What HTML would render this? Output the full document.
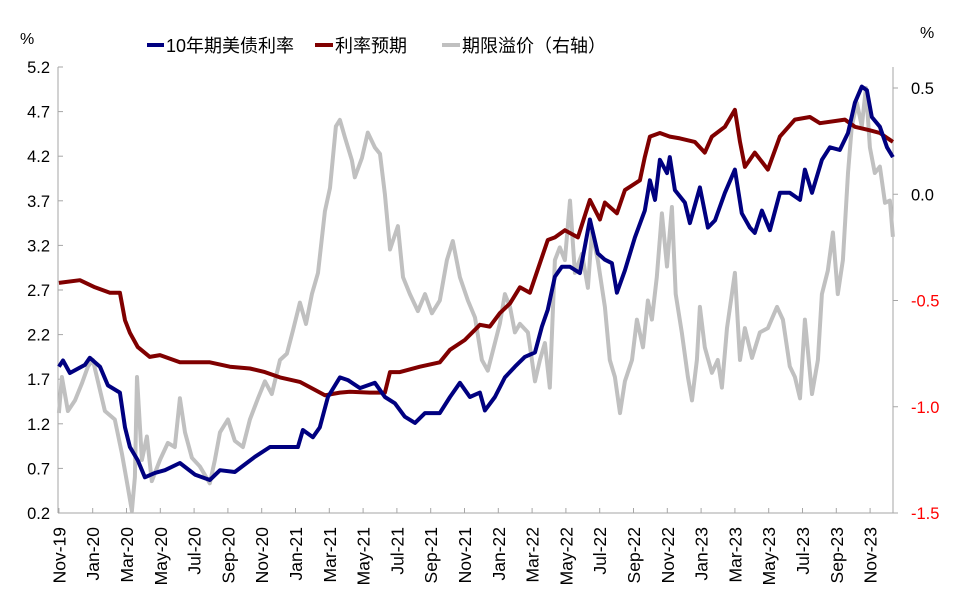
<!DOCTYPE html>
<html><head><meta charset="utf-8"><style>
html,body{margin:0;padding:0;background:#fff;}
svg{display:block;font-family:"Liberation Sans","Noto Sans CJK SC",sans-serif;}
</style></head><body>
<svg id="chart" width="963" height="604" viewBox="0 0 963 604" xmlns="http://www.w3.org/2000/svg">
<g id="axes"></g>
<g id="series"></g>
<g id="legend">
 <g><line x1="147" y1="45" x2="164" y2="45" stroke="#000080" stroke-width="4"/><text x="166" y="52" font-size="18">10年期美债利率</text></g>
 <g><line x1="315" y1="45" x2="333" y2="45" stroke="#800000" stroke-width="4"/><text x="335" y="52" font-size="18">利率预期</text></g>
 <g><line x1="442" y1="45" x2="460" y2="45" stroke="#c0c0c0" stroke-width="4"/><text x="462" y="52" font-size="18">期限溢价（右轴）</text></g>
</g>
<text x="20" y="44" font-size="16">%</text>
<text x="920" y="38" font-size="16">%</text>
</svg>
<script>
const xLabels = ["Nov-19","Jan-20","Mar-20","May-20","Jul-20","Sep-20","Nov-20","Jan-21","Mar-21","May-21","Jul-21","Sep-21","Nov-21","Jan-22","Mar-22","May-22","Jul-22","Sep-22","Nov-22","Jan-23","Mar-23","May-23","Jul-23","Sep-23","Nov-23"];
const leftTicks = [0.2,0.7,1.2,1.7,2.2,2.7,3.2,3.7,4.2,4.7,5.2];
const rightTicks = [0.5,0.0,-0.5,-1.0,-1.5];
// months since Nov 2019
const yieldT = [0,0.24,0.65,1.54,1.83,2.43,2.9,3.61,3.91,4.2,4.67,5.09,5.68,6.27,7.16,8.05,8.93,9.53,10.41,11.6,12.49,14.14,14.44,15.03,15.44,15.92,16.63,17.1,17.81,18.7,19.29,19.88,20.47,21.07,21.66,22.54,23.14,23.73,24.32,24.91,25.21,25.8,26.39,26.98,27.57,28.17,28.58,28.93,29.35,29.76,30.24,30.83,31.42,31.89,32.31,32.72,33.02,33.49,34.08,34.67,34.97,35.27,35.56,35.98,36.15,36.45,37.04,37.34,37.93,38.4,38.82,39.41,40.0,40.41,40.89,41.18,41.6,42.07,42.66,43.25,43.85,44.14,44.56,45.15,45.62,46.21,46.69,47.1,47.51,47.81,48.1,48.58,49.0,49.35];
const yieldV = [1.84,1.91,1.77,1.86,1.94,1.84,1.63,1.55,1.16,0.94,0.79,0.60,0.65,0.68,0.76,0.63,0.57,0.68,0.66,0.83,0.94,0.94,1.13,1.05,1.16,1.50,1.72,1.69,1.60,1.66,1.50,1.43,1.28,1.21,1.32,1.32,1.50,1.66,1.50,1.55,1.35,1.50,1.72,1.84,1.95,2.00,2.29,2.48,2.85,2.96,2.96,2.89,3.49,3.11,3.04,3.00,2.67,2.92,3.29,3.59,3.93,3.71,4.16,4.01,4.19,3.82,3.68,3.45,3.85,3.40,3.48,3.79,4.05,3.56,3.40,3.34,3.59,3.37,3.79,3.79,3.71,4.05,3.79,4.16,4.30,4.27,4.46,4.80,4.98,4.94,4.64,4.53,4.30,4.19];
const expT = [0,1.24,2.13,3.02,3.61,3.91,4.2,4.67,5.38,5.98,7.16,8.93,10.12,11.3,12.19,13.08,14.26,15.15,15.74,16.63,17.22,18.4,19.29,19.59,20.18,21.36,22.54,23.14,24.02,24.91,25.5,26.09,26.69,27.28,27.87,28.46,28.93,29.35,29.94,30.71,31.42,32.01,32.31,33.02,33.49,34.38,34.67,34.97,35.56,36.15,36.75,37.63,38.22,38.64,39.41,40.0,40.3,40.59,41.18,41.95,42.66,43.55,44.44,45.03,46.51,47.1,47.99,48.58,49.35];
const expV = [2.78,2.81,2.73,2.67,2.67,2.36,2.22,2.06,1.95,1.97,1.89,1.89,1.84,1.82,1.78,1.72,1.67,1.58,1.52,1.55,1.56,1.55,1.55,1.78,1.78,1.84,1.89,2.03,2.14,2.31,2.29,2.44,2.55,2.73,2.67,3.00,3.26,3.29,3.37,3.29,3.71,3.49,3.68,3.56,3.82,3.93,4.19,4.42,4.46,4.42,4.40,4.36,4.24,4.42,4.53,4.72,4.36,4.08,4.24,4.05,4.42,4.61,4.64,4.57,4.61,4.53,4.49,4.46,4.36];
const tpT = [0,0.18,0.53,0.95,1.36,1.72,2.01,2.31,2.72,3.31,3.73,4.08,4.32,4.5,4.62,4.91,5.21,5.5,5.98,6.45,6.86,7.16,7.46,7.87,8.34,8.93,9.23,9.53,10.0,10.41,10.89,11.3,11.78,12.19,12.6,13.08,13.49,13.85,14.26,14.62,14.97,15.33,15.74,16.04,16.39,16.63,16.92,17.34,17.51,17.93,18.28,18.7,19.0,19.29,19.59,20.06,20.36,20.77,21.24,21.66,22.07,22.54,22.96,23.31,23.73,24.2,24.62,25.03,25.38,25.8,26.09,26.39,26.69,26.98,27.28,27.75,28.17,28.46,28.76,29.05,29.35,29.64,29.94,30.24,30.53,30.95,31.3,31.54,31.89,32.31,32.6,32.9,33.2,33.49,33.91,34.2,34.56,34.85,35.09,35.38,35.68,35.98,36.27,36.5,36.86,37.22,37.46,37.75,37.93,38.22,38.64,38.99,39.23,39.53,40.0,40.3,40.59,41.01,41.48,41.95,42.49,42.84,43.25,43.55,43.85,44.14,44.56,44.91,45.15,45.5,45.8,46.09,46.39,46.69,46.92,47.22,47.51,47.75,47.99,48.28,48.58,48.88,49.17,49.35];
const tpV = [-1.03,-0.86,-1.02,-0.97,-0.89,-0.81,-0.78,-0.88,-1.02,-1.06,-1.22,-1.38,-1.49,-1.33,-0.86,-1.25,-1.14,-1.35,-1.25,-1.17,-1.19,-0.96,-1.12,-1.24,-1.28,-1.36,-1.25,-1.12,-1.06,-1.16,-1.19,-1.06,-0.96,-0.88,-0.94,-0.78,-0.75,-0.64,-0.51,-0.61,-0.47,-0.37,-0.08,0.03,0.32,0.35,0.27,0.16,0.08,0.17,0.29,0.22,0.19,0.00,-0.26,-0.15,-0.39,-0.47,-0.55,-0.47,-0.56,-0.50,-0.31,-0.22,-0.39,-0.50,-0.58,-0.78,-0.83,-0.70,-0.61,-0.47,-0.53,-0.65,-0.61,-0.65,-0.88,-0.78,-0.70,-0.91,-0.31,-0.25,-0.31,-0.03,-0.37,-0.28,-0.44,-0.18,-0.31,-0.53,-0.78,-0.86,-1.03,-0.88,-0.78,-0.59,-0.72,-0.50,-0.59,-0.39,-0.09,-0.34,-0.06,-0.47,-0.65,-0.86,-0.97,-0.78,-0.53,-0.72,-0.84,-0.78,-0.91,-0.63,-0.37,-0.78,-0.63,-0.77,-0.65,-0.63,-0.53,-0.59,-0.81,-0.86,-0.96,-0.59,-0.94,-0.78,-0.47,-0.36,-0.18,-0.47,-0.31,0.10,0.32,0.43,0.32,0.50,0.22,0.10,0.13,-0.04,-0.03,-0.20];

const NS="http://www.w3.org/2000/svg";
const X0=58.9, PX_PER_MONTH=16.9, PL=58, PR=893, PT=67, PB=513;
const xScale = t => X0 + t*PX_PER_MONTH;
const yLeft = v => PB - (v-0.2)/(5.2-0.2)*(PB-PT);
const yRight = v => PB - (v+1.5)/(0.5+1.5)*(PB-88);
function mk(tag, attrs, parent){const e=document.createElementNS(NS,tag);for(const k in attrs)e.setAttribute(k,attrs[k]);parent.appendChild(e);return e;}
const axes=document.getElementById('axes');
const ser=document.getElementById('series');
const ax='#a6a6a6';
let e;
e=mk('line',{x1:PL,y1:PT,x2:PL,y2:PB,stroke:ax,'stroke-width':1},axes);


e=mk('line',{x1:PR,y1:PT,x2:PR,y2:PB,stroke:ax,'stroke-width':1},axes);


e=mk('line',{x1:PL,y1:PB,x2:PR,y2:PB,stroke:ax,'stroke-width':1},axes);


leftTicks.forEach(v=>{
  const y=yLeft(v);
  mk('line',{x1:PL,y1:y,x2:PL+5,y2:y,stroke:ax},axes);
  const t=mk('text',{x:50,y:y+6,'font-size':16.5,'text-anchor':'end'},axes);
  t.textContent=v.toFixed(1);
  
  
});
rightTicks.forEach(v=>{
  const y=yRight(v);
  mk('line',{x1:PR,y1:y,x2:PR+5,y2:y,stroke:ax},axes);
  const t=mk('text',{x:911,y:y+6,'font-size':16.5,fill:v<0?'#ff0000':'#000'},axes);
  t.textContent=v.toFixed(1);
  
  
});
xLabels.forEach((l,i)=>{
  const x=xScale(i*2);
  mk('line',{x1:x,y1:PB,x2:x,y2:PB-5,stroke:ax},axes);
  const t=mk('text',{x:0,y:0,'font-size':17.5,'text-anchor':'end',transform:`translate(${x+6.5},527) rotate(-90)`},axes);
  t.textContent=l;
  
  
});
function line(T,V,ys,color,name){
  const d=T.map((t,i)=>(i?'L':'M')+xScale(t).toFixed(1)+','+ys(V[i]).toFixed(1)).join('');
  const p=mk('path',{d:d,fill:'none',stroke:color,'stroke-width':4,'stroke-linejoin':'round'},ser);
  
  
}
line(tpT,tpV,yRight,'#c0c0c0','term-premium-line');
line(expT,expV,yLeft,'#800000','rate-expectation-line');
line(yieldT,yieldV,yLeft,'#000080','10y-yield-line');
</script>
</body></html>
